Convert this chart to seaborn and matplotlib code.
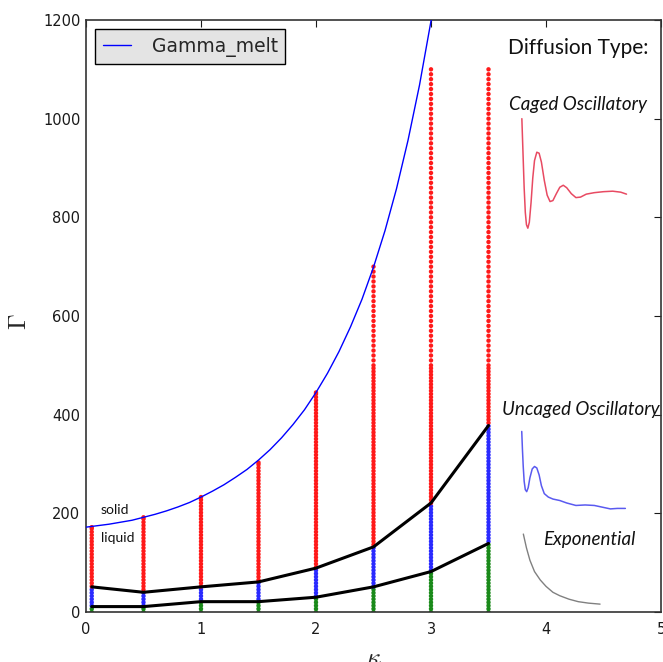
import numpy as np
import pandas as pd
import matplotlib
matplotlib.use("Agg")
import matplotlib.pyplot as plt
import seaborn as sns

# --- melting curve Gamma_m(kappa) ---
kappa_melt = [0.0, 0.1, 0.2, 0.3, 0.4, 0.5, 0.6, 0.7, 0.8, 0.9, 1.0, 1.1, 1.2, 1.3, 1.4, 1.5,
              1.6, 1.7, 1.8, 1.9, 2.0, 2.1, 2.2, 2.3, 2.4, 2.5, 2.6, 2.7, 2.8, 2.9, 3.0, 3.1]
gamma_melt = [172, 175, 178, 182, 186, 192, 198, 205, 213, 222, 233, 245, 258, 273, 289, 308,
              329, 353, 380, 410, 445, 484, 528, 578, 634, 699, 773, 858, 956, 1068, 1198, 1349]

# --- simulated state points (one column per kappa) ---
kappa_cols = [0.05, 0.5, 1.0, 1.5, 2.0, 2.5, 3.0, 3.5]
gamma_top = [172, 192, 233, 303, 445, 700, 1100, 1100]
# boundaries between diffusion regimes
gamma_exp_upper = [11, 11, 21, 21, 30, 51, 82, 139]      # exponential / uncaged
gamma_caged_lower = [51, 40, 51, 61, 89, 132, 221, 378]   # uncaged / caged

# --- sketches of the velocity autocorrelation for each regime ---
caged_k = [3.790, 3.800, 3.810, 3.820, 3.830, 3.842, 3.855, 3.870, 3.885, 3.900, 3.920, 3.940,
           3.960, 3.985, 4.010, 4.035, 4.060, 4.090, 4.120, 4.150, 4.180, 4.220, 4.260, 4.300,
           4.350, 4.420, 4.500, 4.580, 4.650, 4.700]
caged_g = [1000, 930, 860, 810, 785, 778, 790, 830, 880, 915, 932, 930,
           912, 875, 845, 832, 834, 848, 861, 865, 860, 848, 840, 841,
           847, 850, 852, 853, 851, 847]
uncaged_k = [3.789, 3.795, 3.802, 3.810, 3.820, 3.832, 3.845, 3.860, 3.880, 3.900, 3.920, 3.940,
             3.960, 3.985, 4.020, 4.060, 4.120, 4.180, 4.260, 4.340, 4.420, 4.500, 4.560, 4.620,
             4.690]
uncaged_g = [366, 330, 295, 265, 248, 244, 252, 272, 290, 295, 292, 278,
             256, 240, 233, 229, 226, 221, 216, 217, 216, 212, 209, 210, 210]
expo_k = [3.803, 3.830, 3.860, 3.900, 3.950, 4.000, 4.060, 4.120, 4.200, 4.280, 4.370, 4.470]
expo_g = [158, 130, 105, 82, 65, 52, 40, 33, 26, 21, 18, 16]

x_ticks = [0, 1, 2, 3, 4, 5]
y_ticks = [0, 200, 400, 600, 800, 1000, 1200]

sns.set_style("white")
plt.rcParams["font.family"] = ["DejaVu Sans"]
plt.rcParams["mathtext.fontset"] = "cm"

fig = plt.figure(figsize=(6.63, 6.62), dpi=100)
ax = fig.add_axes([0.1297, 0.0755, 0.8673, 0.8943])

# build the grid of state points (finer below Gamma=500) and classify them
rows = []
for k, top, lo, hi in zip(kappa_cols, gamma_top, gamma_exp_upper, gamma_caged_lower):
    grid = np.concatenate([np.arange(0, min(top, 500), 6.5),
                           np.arange(500, top - 4, 10), [top]])
    for g in grid:
        if g < lo:
            regime = "exp"
        elif g < hi:
            regime = "uncaged"
        else:
            regime = "caged"
        rows.append((k, g, regime))
pts = pd.DataFrame(rows, columns=["kappa", "Gamma", "regime"])

sns.scatterplot(data=pts, x="kappa", y="Gamma", hue="regime",
                palette={"caged": "#ff1a1a", "uncaged": "#2a2aff", "exp": "#1a8a1a"},
                s=10, linewidth=0, legend=False, ax=ax, zorder=2)

bounds = pd.DataFrame({"kappa": kappa_cols, "lo": gamma_exp_upper, "hi": gamma_caged_lower})
sns.lineplot(data=bounds, x="kappa", y="lo", color="black", lw=2.2, ax=ax, zorder=3)
sns.lineplot(data=bounds, x="kappa", y="hi", color="black", lw=2.2, ax=ax, zorder=3)

melt = pd.DataFrame({"kappa": kappa_melt, "Gamma": gamma_melt})
sns.lineplot(data=melt, x="kappa", y="Gamma", color="#0000ff", lw=1,
             label="Gamma_melt", ax=ax, zorder=4)

sns.lineplot(x=caged_k, y=caged_g, color="#e84a62", lw=1.1, ax=ax, sort=False)
sns.lineplot(x=uncaged_k, y=uncaged_g, color="#5a5af0", lw=1.1, ax=ax, sort=False)
sns.lineplot(x=expo_k, y=expo_g, color="#808080", lw=1, ax=ax, sort=False)

ax.set_xlim(0, 5)
ax.set_ylim(0, 1200)
ax.set_xticks(x_ticks)
ax.set_yticks(y_ticks)
ax.tick_params(direction="in", top=True, right=True, length=5, width=0.8,
               labelsize=10.5, colors="#1a1a1a")
ax.tick_params(axis="x", pad=7)
ax.tick_params(axis="y", pad=4)
for sp in ax.spines.values():
    sp.set_color("#333333")
    sp.set_linewidth(1.2)

ax.set_xlabel(r"$\kappa$", fontsize=18)
ax.xaxis.set_label_coords(0.5, -0.057)
ax.set_ylabel(r"$\Gamma$", fontsize=18)
ax.yaxis.set_label_coords(-0.096, 0.49)

leg = ax.legend(loc="upper left", fontsize=13.5, frameon=True, fancybox=False,
                handlelength=1.5, handletextpad=1.1, borderaxespad=0.5)
leg.get_frame().set_facecolor("#e4e4e4")
leg.get_frame().set_edgecolor("black")
leg.get_frame().set_alpha(1)

lab = dict(family="Lato", color="#111111")
ax.text(0.13, 207, "solid", fontsize=10, va="center", ha="left", **lab)
ax.text(0.13, 150, "liquid", fontsize=10, va="center", ha="left", **lab)
ax.text(3.67, 1143, "Diffusion Type:", fontsize=15, va="center", ha="left", **lab)
ax.text(4.278, 1028, "Caged Oscillatory", fontsize=13.5, style="italic",
        va="center", ha="center", **lab)
ax.text(4.30, 411, "Uncaged Oscillatory", fontsize=13.5, style="italic",
        va="center", ha="center", **lab)
ax.text(4.378, 146, "Exponential", fontsize=13.5, style="italic",
        va="center", ha="center", **lab)

fig.savefig("out.png", dpi=100)
